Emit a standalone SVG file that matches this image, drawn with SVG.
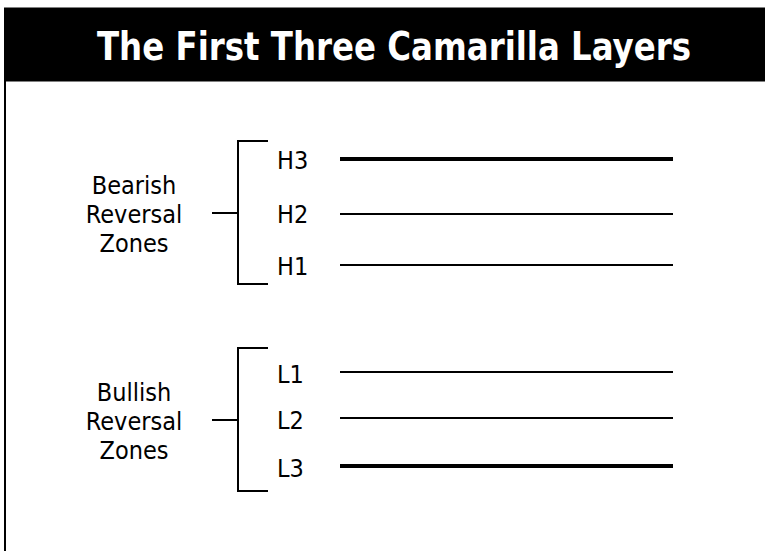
<svg xmlns="http://www.w3.org/2000/svg" width="765" height="551" viewBox="0 0 765 551">
<style>
.t{font-family:'DejaVu Sans Condensed','DejaVu Sans','Liberation Sans',sans-serif;font-size:25px;fill:#000}
.title{font-family:'DejaVu Sans Condensed','DejaVu Sans','Liberation Sans',sans-serif;font-size:39px;font-weight:bold;fill:#fff}
.b{stroke:#000;stroke-width:2;fill:none}
.thin{stroke:#000;stroke-width:2}
.thick{stroke:#000;stroke-width:4}
</style>
<rect x="0" y="0" width="765" height="551" fill="#fff"/>
<g id="frame">
<line x1="5" y1="80" x2="5" y2="551" stroke="#000" stroke-width="2"/>
<rect x="4" y="7.5" width="761" height="74" fill="#000"/>
<text class="title" x="97" y="60" textLength="594" lengthAdjust="spacingAndGlyphs">The First Three Camarilla Layers</text>
</g>
<g id="bearish">
<text class="t" text-anchor="middle" x="134"><tspan x="134" y="194">Bearish</tspan><tspan x="134" y="223">Reversal</tspan><tspan x="134" y="252">Zones</tspan></text>
<path class="b" d="M268 141H238V284H268M212 213H238"/>
</g>
<g id="bullish">
<text class="t" text-anchor="middle" x="134"><tspan x="134" y="401">Bullish</tspan><tspan x="134" y="430">Reversal</tspan><tspan x="134" y="459">Zones</tspan></text>
<path class="b" d="M268 348H238V491H268M212 420H238"/>
</g>
<g id="labels">
<text class="t" x="277" y="169">H3</text>
<text class="t" x="277" y="223">H2</text>
<text class="t" x="277" y="275">H1</text>
<text class="t" x="277" y="383">L1</text>
<text class="t" x="277" y="429">L2</text>
<text class="t" x="277" y="477">L3</text>
</g>
<g id="connectors">
<line class="thick" x1="340" y1="159" x2="673" y2="159"/>
<line class="thin" x1="340" y1="214" x2="673" y2="214"/>
<line class="thin" x1="340" y1="265" x2="673" y2="265"/>
<line class="thin" x1="340" y1="372" x2="673" y2="372"/>
<line class="thin" x1="340" y1="418" x2="673" y2="418"/>
<line class="thick" x1="340" y1="466" x2="673" y2="466"/>
</g>
</svg>
